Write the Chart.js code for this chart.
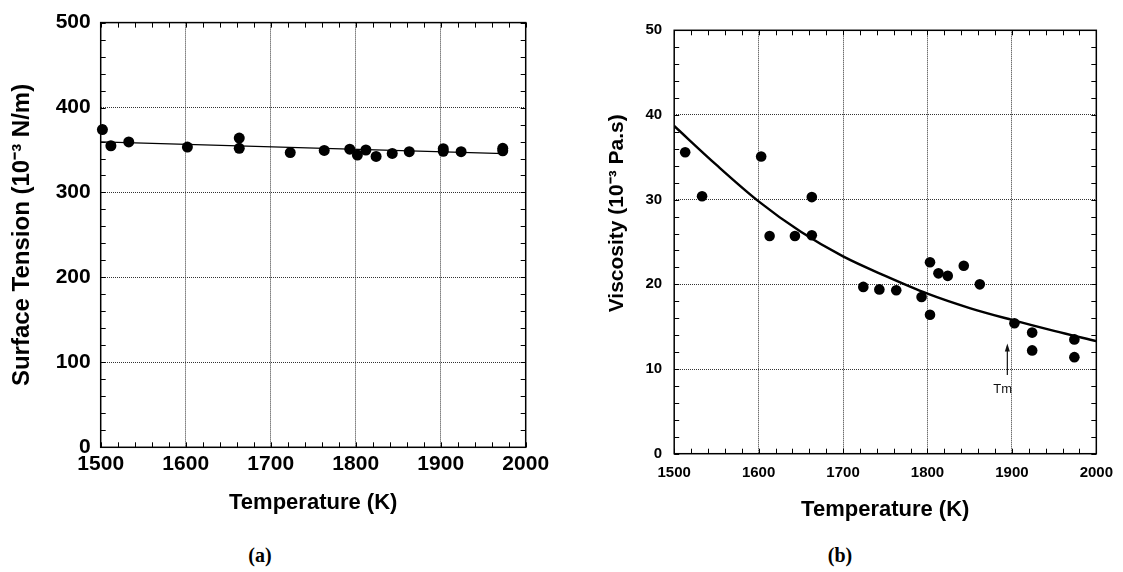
<!DOCTYPE html>
<html lang="en">
<head>
    <meta charset="UTF-8">
    <title>Surface tension and viscosity vs temperature</title>
    <script src="https://cdn.jsdelivr.net/npm/chart.js"></script>
    <style>
        body {
            margin: 0;
            background-color: #ffffff;
            width: 1123px;
            height: 572px;
            position: relative;
            overflow: hidden;
        }
        canvas {
            position: absolute;
            top: 0;
        }
        #tensionChart { left: 0; }
        #viscosityChart { left: 560px; }
        .caption {
            position: absolute;
            top: 544px;
            width: 60px;
            text-align: center;
            font: bold 20px 'Liberation Serif', serif;
            color: #000;
        }
    </style>
</head>
<body>
    <canvas id="tensionChart" width="560" height="530"></canvas>
    <canvas id="viscosityChart" width="563" height="530"></canvas>
    <div class="caption" style="left: 230px;">(a)</div>
    <div class="caption" style="left: 810px;">(b)</div>

    <script>
        // ---- data ----
        const tempTicks = [1500, 1600, 1700, 1800, 1900, 2000];
        const tensionTicks = [0, 100, 200, 300, 400, 500];
        const viscosityTicks = [0, 10, 20, 30, 40, 50];

        // (a) surface tension, 10^-3 N/m
        const tensionT = [1502, 1512, 1533, 1602, 1663, 1663, 1723, 1763, 1793, 1802, 1812, 1824, 1843, 1863, 1903, 1903, 1924, 1973, 1973];
        const tensionV = [374, 355, 359.5, 353.5, 364, 352, 347, 349.5, 351, 344, 350, 342.5, 346, 348, 351.5, 348.5, 348, 352, 349];
        const tensionFitT = [1500, 1975];
        const tensionFitV = [359.5, 345.8];

        // (b) viscosity, 10^-3 Pa.s
        const viscT = [1513, 1533, 1603, 1613, 1643, 1663, 1663, 1724, 1743, 1763, 1793, 1803, 1803, 1813, 1824, 1843, 1862, 1903, 1924, 1924, 1974, 1974];
        const viscV = [35.6, 30.4, 35.1, 25.7, 25.7, 30.3, 25.8, 19.7, 19.4, 19.3, 18.5, 22.6, 16.4, 21.3, 21.0, 22.2, 20.0, 15.4, 14.3, 12.2, 13.5, 11.4];
        const viscFitT = [1500, 1550, 1600, 1650, 1700, 1750, 1800, 1850, 1900, 1950, 2000];
        const viscFitV = [38.7, 34.1, 29.8, 26.2, 23.3, 21.0, 18.9, 17.2, 15.8, 14.5, 13.3];

        // melting point marker in (b)
        const tmT = 1894.6;
        const tmArrowFrom = 9.3;
        const tmArrowTo = 13.0;
        const tmLabelT = 1889;
        const tmLabelV = 7.6;

        Chart.defaults.font.family = "'Liberation Sans', Arial, sans-serif";
        Chart.defaults.color = '#000';

        const toXY = (xs, ys) => xs.map((x, i) => ({ x: x, y: ys[i] }));

        // box with inward minor ticks on all four sides
        const frameTicks = {
            id: 'frameTicks',
            beforeDatasetsDraw(chart, args, opts) {
                const { ctx, chartArea: a, scales: { x, y } } = chart;
                ctx.save();
                ctx.strokeStyle = '#000';
                ctx.lineWidth = 1;
                ctx.beginPath();
                for (let v = x.min; v <= x.max + 1e-6; v += opts.xMinor) {
                    const px = Math.round(x.getPixelForValue(v)) + 0.5;
                    ctx.moveTo(px, a.bottom); ctx.lineTo(px, a.bottom - opts.len);
                    ctx.moveTo(px, a.top); ctx.lineTo(px, a.top + opts.len);
                }
                for (let v = y.min; v <= y.max + 1e-6; v += opts.yMinor) {
                    const py = Math.round(y.getPixelForValue(v)) + 0.5;
                    ctx.moveTo(a.left, py); ctx.lineTo(a.left + opts.len, py);
                    ctx.moveTo(a.right, py); ctx.lineTo(a.right - opts.len, py);
                }
                ctx.stroke();
                ctx.lineWidth = 1.5;
                ctx.strokeRect(a.left, a.top, a.right - a.left, a.bottom - a.top);
                ctx.restore();
            }
        };

        // "Tm" arrow and the y title (sits above centre in the original) for the viscosity plot
        const viscExtras = {
            id: 'viscExtras',
            afterDatasetsDraw(chart) {
                const { ctx, chartArea: a, scales: { x, y } } = chart;
                const px = x.getPixelForValue(tmT);
                const y0 = y.getPixelForValue(tmArrowFrom);
                const y1 = y.getPixelForValue(tmArrowTo);
                ctx.save();
                ctx.strokeStyle = '#111';
                ctx.fillStyle = '#111';
                ctx.lineWidth = 1.2;
                ctx.beginPath();
                ctx.moveTo(px, y0); ctx.lineTo(px, y1 + 3);
                ctx.stroke();
                ctx.beginPath();
                ctx.moveTo(px, y1); ctx.lineTo(px - 2.5, y1 + 8); ctx.lineTo(px + 2.5, y1 + 8);
                ctx.closePath();
                ctx.fill();
                ctx.font = "13px 'Liberation Sans', Arial, sans-serif";
                ctx.textAlign = 'center';
                ctx.textBaseline = 'middle';
                ctx.fillText('Tm', x.getPixelForValue(tmLabelT), y.getPixelForValue(tmLabelV));

                ctx.fillStyle = '#000';
                ctx.font = "bold 21px 'Liberation Sans', Arial, sans-serif";
                ctx.translate(a.left - 57, a.top + 183);
                ctx.rotate(-Math.PI / 2);
                ctx.fillText('Viscosity (10⁻³ Pa.s)', 0, 0);
                ctx.restore();
            }
        };

        function axisGrid() {
            return {
                display: true,
                drawTicks: false,
                color: (c) => (c.index === 0 || c.index === 5) ? 'rgba(0,0,0,0)' : '#333',
                lineWidth: 1
            };
        }

        const plainLabel = (v) => String(v);

        // ---- (a) surface tension ----
        new Chart(document.getElementById('tensionChart'), {
            type: 'scatter',
            data: {
                datasets: [{
                    data: toXY(tensionT, tensionV),
                    backgroundColor: '#000',
                    borderWidth: 0,
                    pointRadius: 5.5,
                    clip: false,
                    order: 0
                }, {
                    data: toXY(tensionFitT, tensionFitV),
                    showLine: true,
                    borderColor: '#000',
                    borderWidth: 1.3,
                    pointRadius: 0,
                    order: 1
                }]
            },
            plugins: [frameTicks],
            options: {
                responsive: false,
                animation: false,
                layout: { padding: { top: 22.3, right: 34.3, left: 0, bottom: 0 } },
                plugins: {
                    legend: { display: false },
                    tooltip: { enabled: false },
                    frameTicks: { xMinor: 20, yMinor: 20, len: 5 }
                },
                scales: {
                    x: {
                        type: 'linear',
                        min: 1500,
                        max: 2000,
                        afterBuildTicks: (s) => { s.ticks = tempTicks.map(v => ({ value: v })); },
                        afterFit: (s) => { s.height = 82.7; },
                        ticks: { padding: 4, font: { size: 21, weight: 'bold' }, callback: plainLabel },
                        grid: axisGrid(),
                        border: { display: false, dash: [1, 1] },
                        title: {
                            display: true,
                            text: 'Temperature (K)',
                            font: { size: 22, weight: 'bold' },
                            padding: { top: 0, bottom: 14 }
                        }
                    },
                    y: {
                        type: 'linear',
                        min: 0,
                        max: 500,
                        afterBuildTicks: (s) => { s.ticks = tensionTicks.map(v => ({ value: v })); },
                        afterFit: (s) => { s.width = 100.7; },
                        ticks: { padding: 10, font: { size: 21, weight: 'bold' }, callback: plainLabel },
                        grid: axisGrid(),
                        border: { display: false, dash: [1, 1] },
                        title: {
                            display: true,
                            text: 'Surface Tension (10⁻³ N/m)',
                            font: { size: 24, weight: 'bold' },
                            padding: { top: 8, bottom: 0 }
                        }
                    }
                }
            }
        });

        // ---- (b) viscosity ----
        new Chart(document.getElementById('viscosityChart'), {
            type: 'scatter',
            data: {
                datasets: [{
                    data: toXY(viscT, viscV),
                    backgroundColor: '#000',
                    borderWidth: 0,
                    pointRadius: 5.3,
                    clip: false,
                    order: 0
                }, {
                    data: toXY(viscFitT, viscFitV),
                    showLine: true,
                    borderColor: '#000',
                    borderWidth: 2.4,
                    cubicInterpolationMode: 'monotone',
                    pointRadius: 0,
                    order: 1
                }]
            },
            plugins: [frameTicks, viscExtras],
            options: {
                responsive: false,
                animation: false,
                layout: { padding: { top: 30.3, right: 23.2, left: 0, bottom: 0 } },
                plugins: {
                    legend: { display: false },
                    tooltip: { enabled: false },
                    frameTicks: { xMinor: 20, yMinor: 2, len: 5 }
                },
                scales: {
                    x: {
                        type: 'linear',
                        min: 1500,
                        max: 2000,
                        afterBuildTicks: (s) => { s.ticks = tempTicks.map(v => ({ value: v })); },
                        afterFit: (s) => { s.height = 76.3; },
                        ticks: { padding: 10, font: { size: 15, weight: 'bold' }, callback: plainLabel },
                        grid: axisGrid(),
                        border: { display: false, dash: [1, 1] },
                        title: {
                            display: true,
                            text: 'Temperature (K)',
                            font: { size: 22, weight: 'bold' },
                            padding: { top: 0, bottom: 7 }
                        }
                    },
                    y: {
                        type: 'linear',
                        min: 0,
                        max: 50,
                        afterBuildTicks: (s) => { s.ticks = viscosityTicks.map(v => ({ value: v })); },
                        afterFit: (s) => { s.width = 114.2; },
                        ticks: { padding: 12, font: { size: 15, weight: 'bold' }, callback: plainLabel },
                        grid: axisGrid(),
                        border: { display: false, dash: [1, 1] },
                        title: { display: false }
                    }
                }
            }
        });
    </script>
</body>
</html>
